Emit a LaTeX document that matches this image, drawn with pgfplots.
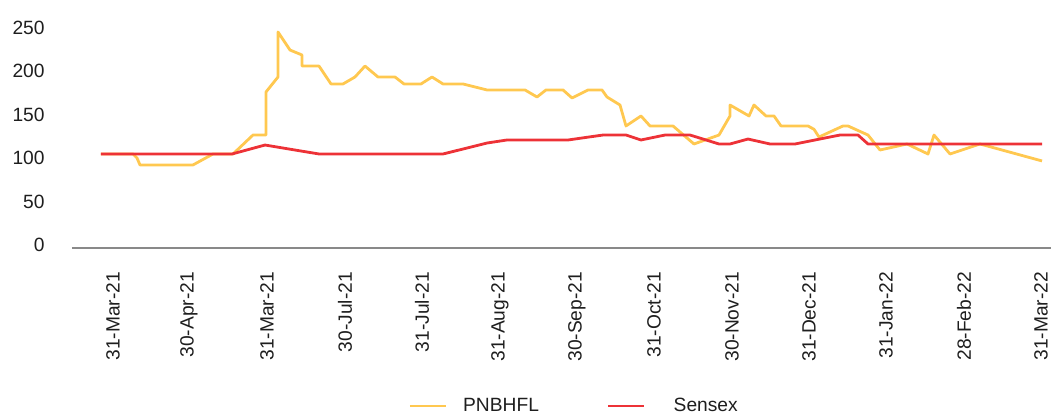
\documentclass[border=0pt]{standalone}
\usepackage{fontspec}
\setmainfont{Liberation Sans}
\usepackage{pgfplots}
\pgfplotsset{compat=1.18}
\definecolor{pnb}{RGB}{255,200,80}
\definecolor{sx}{RGB}{237,50,55}
\definecolor{axgray}{RGB}{137,137,137}
\definecolor{txt}{RGB}{30,30,30}
\pgfplotsset{
  legA/.style={legend image code/.code={\draw[##1] (0pt,0pt) -- (18pt,0pt);}},
  legB/.style={legend image code/.code={\draw[##1] (0pt,0pt) -- (18pt,0pt); \path (24pt,0pt);}},
}
\begin{document}
\fontsize{9.6}{11.5}\selectfont
\begin{tikzpicture}
\path[use as bounding box] (-36pt,-84.5pt) rectangle (489.5pt,124pt);
\begin{axis}[
  scale only axis, width=489.5pt, height=124pt,
  at={(0,0)}, anchor=south west,
  xmin=-29, xmax=950, ymin=-3.45, ymax=281.6,
  axis x line*=bottom, axis y line*=left,
  y axis line style={draw=none},
  x axis line style={axgray, line width=1pt},
  major tick length=0pt,
  ytick={0,50,100,150,200,250},
  xtick={12,88,166,244,321,399,476,553,631,708,785,863,940},
  xticklabels={31-Mar-21,30-Apr-21,31-Mar-21,30-Jul-21,31-Jul-21,31-Aug-21,30-Sep-21,31-Oct-21,30-Nov-21,31-Dec-21,31-Jan-22,28-Feb-22,31-Mar-22},
  xticklabel style={rotate=90, anchor=east},
  xticklabel shift=8.6pt,
  yticklabel style={anchor=east},
  yticklabel shift=10.3pt,
  tick label style={font=\fontsize{9.6}{11.5}\selectfont, text=txt},
  /pgf/number format/assume math mode=true,
  clip=false,
  legend columns=2,
  legA,
  legend style={at={(0.3432,-0.637)}, anchor=west, draw=none, fill=none, inner sep=0pt,
    nodes={inner sep=0pt, text=txt, font=\fontsize{9.6}{11.5}\selectfont},
    /tikz/every odd column/.append style={column sep=8pt},
    /tikz/every even column/.append style={column sep=34pt}},
  every axis plot/.append style={line width=1.4pt, line join=round},
]
\addplot[pnb] coordinates {
(0,104.6) (32,104.6) (36,100) (39,92) (92,92) (112,104.6) (132,104.6) (152,126.4) (165,126.4)
(165,175.9) (177,193.1) (177,244.8) (189,224.1) (201,218.4) (201,205.7) (218,205.7)
(230,185.1) (242,185.1) (254,193.1) (264,205.7) (277,193.1) (294,193.1) (303,185.1)
(320,185.1) (331,193.1) (342,185.1) (362,185.1) (386,178.2) (424,178.2) (436,170.1)
(445,178.2) (462,178.2) (471,169) (487,178.2) (501,178.2) (506,170.1) (519,160.9)
(525,136.8) (540,148.3) (549,136.8) (572,136.8) (579,129.9) (593,116.1) (618,126.4)
(629,148.3) (629,160.9) (648,148.3) (653,160.9) (665,148.3) (673,148.3) (680,136.8)
(707,136.8) (713,133) (718,124.1) (742,136.8) (747,136.8) (767,126.4) (779,109.2)
(806,116.1) (827,104.6) (833,126.4) (849,104.6) (879,116.1) (941,96.6)
};
\addlegendentry{PNBHFL}
\addplot[sx, legB] coordinates {
(0,104.6) (131,104.6) (164,114.9) (218,104.6) (342,104.6) (386,117.2) (406,120.7)
(467,120.7) (502,126.4) (525,126.4) (540,120.7) (564,126.4) (589,126.4) (618,116.1)
(629,116.1) (647,121.8) (669,116.1) (694,116.1) (739,126.4) (757,126.4) (767,116.1)
(941,116.1)
};
\addlegendentry{Sensex}
\end{axis}
\end{tikzpicture}
\end{document}
